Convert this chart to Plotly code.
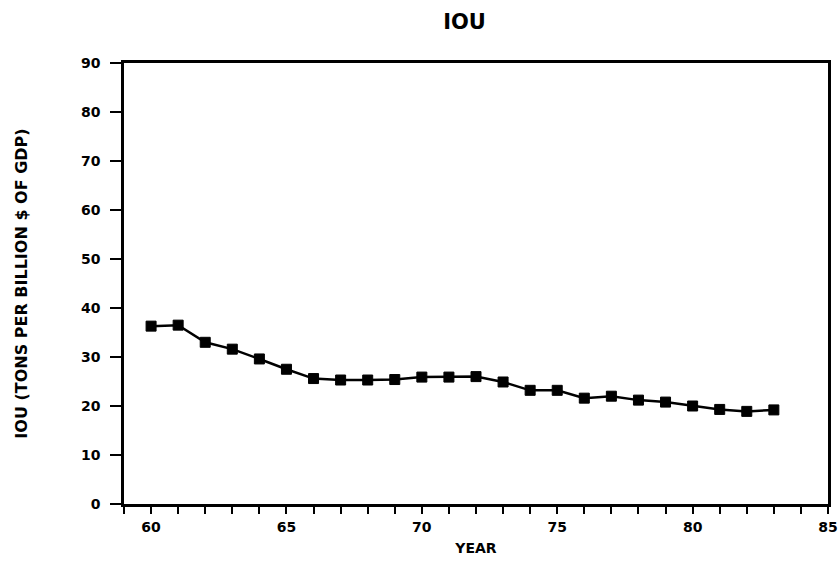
import plotly.graph_objects as go

years = list(range(60, 84))
iou = [36.3, 36.5, 33.0, 31.6, 29.6, 27.5, 25.6, 25.3, 25.3, 25.4, 25.9, 25.9,
       26.0, 24.9, 23.2, 23.2, 21.6, 22.0, 21.2, 20.8, 20.0, 19.3, 18.9, 19.2]

x_ticks = [60, 65, 70, 75, 80, 85]
y_ticks = [0, 10, 20, 30, 40, 50, 60, 70, 80, 90]

tick_font = dict(family="DejaVu Sans", size=14, color="black", weight=700)

fig = go.Figure()
fig.add_trace(go.Scatter(
    x=years, y=iou, mode="lines+markers",
    line=dict(color="black", width=2.5),
    marker=dict(symbol="square", size=10, color="black",
                line=dict(color="black", width=1)),
    showlegend=False,
))

fig.update_layout(
    width=840, height=571,
    margin=dict(l=124, r=12, t=63, b=67),
    paper_bgcolor="white", plot_bgcolor="white",
    title=dict(text="IOU", x=0.553, xanchor="center", y=0.962, yanchor="middle",
               font=dict(family="DejaVu Sans", size=21, color="black", weight=700)),
)
fig.update_xaxes(
    range=[59, 85], tickvals=x_ticks, ticktext=[str(v) for v in x_ticks],
    automargin=False,
    showgrid=False, zeroline=False, showline=True, linecolor="black", linewidth=2.5,
    mirror=True, ticks="outside", ticklen=7, tickwidth=2, tickcolor="black",
    minor=dict(dtick=1, tick0=59, ticks="outside", ticklen=7, tickwidth=2, tickcolor="black"),
    tickfont=tick_font, ticklabelstandoff=1,
    title=dict(text="YEAR", font=dict(family="DejaVu Sans", size=14, color="black", weight=700),
               standoff=10),
)
fig.update_yaxes(
    range=[0, 90], tickvals=y_ticks, ticktext=[str(v) for v in y_ticks],
    automargin=False,
    showgrid=False, zeroline=False, showline=True, linecolor="black", linewidth=2.5,
    mirror=True, ticks="outside", ticklen=11, tickwidth=2, tickcolor="black",
    tickfont=tick_font, ticklabelstandoff=7,
    title=dict(text="IOU (TONS PER BILLION $ OF GDP)",
               font=dict(family="DejaVu Sans", size=16, color="black", weight=700),
               standoff=50),
)

fig.write_html("out.html")
